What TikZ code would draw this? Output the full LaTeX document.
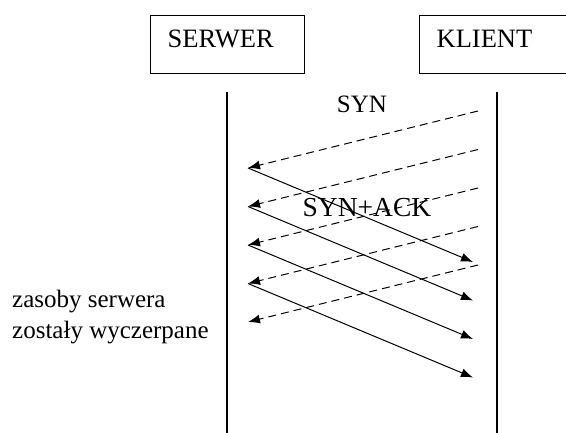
\documentclass[tikz,border=0pt]{standalone}
\usepackage{fontspec}
\setmainfont{Liberation Serif}
\usetikzlibrary{arrows.meta}
\begin{document}
\begin{tikzpicture}[x=1pt,y=-1pt,
  box/.style={draw,line width=1.3pt,anchor=north west,minimum height=58pt,
    text width=120pt,align=left,inner xsep=17pt,inner ysep=0pt,
    text height=17pt,text depth=12pt,font=\fontsize{26.5}{30}\selectfont},
  life/.style={line width=1.4pt},
  req/.style={dashed,dash pattern=on 8pt off 5pt,line width=1pt,
    -{Latex[length=12pt,width=9pt]}},
  resp/.style={line width=1pt,-{Latex[length=12pt,width=9pt]}},
  lbl/.style={font=\fontsize{25}{30}\selectfont,inner sep=0pt}]
\useasboundingbox (0,0) rectangle (566,433);
\clip (0,0) rectangle (566,433);
\node[box] (srv) at (150,15) {SERWER};
\node[box] (kli) at (419,15) {KLIENT};
\coordinate (srvtop) at (227,92);
\coordinate (srvbot) at (227,433);
\coordinate (klitop) at (497,92);
\coordinate (klibot) at (497,433);
\draw[life] (srvtop) -- (srvbot);
\draw[life] (klitop) -- (klibot);
\foreach \k in {0,...,4}{
  \coordinate (c\k) at (478,{111+38.5*\k});
  \coordinate (s\k) at (248,{168+38.5*\k});
}
\foreach \k in {0,...,3}{
  \coordinate (r\k) at (473,{262+38.5*\k});
}
\foreach \k in {0,...,4}{\draw[req] (c\k) -- (s\k);}
\foreach \k in {0,...,3}{\draw[resp] (s\k) -- (r\k);}
\node[lbl,anchor=base] (syn) at (362,113) {SYN};
\node[lbl,anchor=base,font=\fontsize{27.5}{30}\selectfont] (synack) at (367,217) {SYN+ACK};
\node[lbl,anchor=base west] (res1) at (12,308) {zasoby serwera};
\node[lbl,anchor=base west] (res2) at (12,338) {zostały wyczerpane};
\end{tikzpicture}
\end{document}
